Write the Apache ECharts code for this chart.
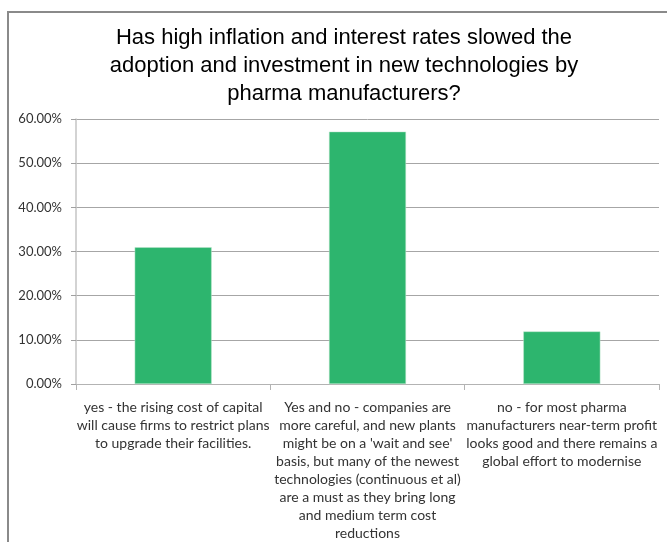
<!DOCTYPE html>
<html>
<head>
<meta charset="utf-8">
<script src="https://cdn.jsdelivr.net/npm/echarts@6/dist/echarts.min.js"></script>
<style>
  html, body { margin: 0; padding: 0; background: #fff; }
  #chart { width: 667px; height: 542px; }
</style>
</head>
<body>
<div id="chart"></div>
<script>
// Survey answers (line breaks follow the printed wrapping)
const categories = [
  "yes - the rising cost of capital\nwill cause firms to restrict plans\nto upgrade their facilities.",
  "Yes and no - companies are\nmore careful, and new plants\nmight be on a 'wait and see'\nbasis, but many of the newest\ntechnologies (continuous et al)\nare a must as they bring long\nand medium term cost\nreductions",
  "no - for most pharma\nmanufacturers near-term profit\nlooks good and there remains a\nglobal effort to modernise"
];
// Share of respondents, percent
const shares = [30.95, 57.14, 11.90];
const titleText = "Has high inflation and interest rates slowed the\nadoption and investment in new technologies by\npharma manufacturers?";

const chart = echarts.init(document.getElementById('chart'), null, { renderer: 'canvas' });
chart.setOption({
  backgroundColor: '#ffffff',
  animation: false,
  graphic: [{
    type: 'rect',
    shape: { x: 8, y: 12, width: 720, height: 600 },
    style: { fill: 'none', stroke: '#8a8a8a', lineWidth: 2 },
    silent: true
  }],
  title: {
    text: titleText,
    left: 339,
    textAlign: 'center',
    top: 19,
    textStyle: {
      fontFamily: 'Liberation Sans, Arial, sans-serif',
      fontSize: 22,
      fontWeight: 'normal',
      color: '#000000',
      lineHeight: 28
    }
  },
  grid: { left: 76, right: 8, top: 119, bottom: 158, containLabel: false },
  xAxis: {
    type: 'category',
    data: categories,
    axisLine: { lineStyle: { color: '#b3b3b3', width: 1 } },
    axisTick: { show: true, alignWithLabel: false, length: 6, lineStyle: { color: '#b3b3b3' } },
    axisLabel: {
      interval: 0,
      margin: 14,
      fontFamily: 'Lato, sans-serif',
      fontSize: 14,
      lineHeight: 18,
      color: '#333333',
      align: 'center'
    }
  },
  yAxis: {
    type: 'value',
    min: 0,
    max: 60,
    interval: 10,
    axisLine: { show: true, lineStyle: { color: '#c4c4c4', width: 1.5 } },
    axisTick: { show: true, length: 5, lineStyle: { color: '#a0a0a0' } },
    splitLine: { lineStyle: { color: '#a6a6a6', width: 1 } },
    axisLabel: {
      margin: 14,
      fontFamily: 'Lato, sans-serif',
      fontSize: 13,
      color: '#333333',
      formatter: v => v.toFixed(2) + '%'
    }
  },
  series: [{
    type: 'bar',
    data: shares,
    barWidth: 77,
    itemStyle: { color: '#2db56e', borderColor: '#bfe6cf', borderWidth: 0.5 }
  }]
});
</script>
</body>
</html>
